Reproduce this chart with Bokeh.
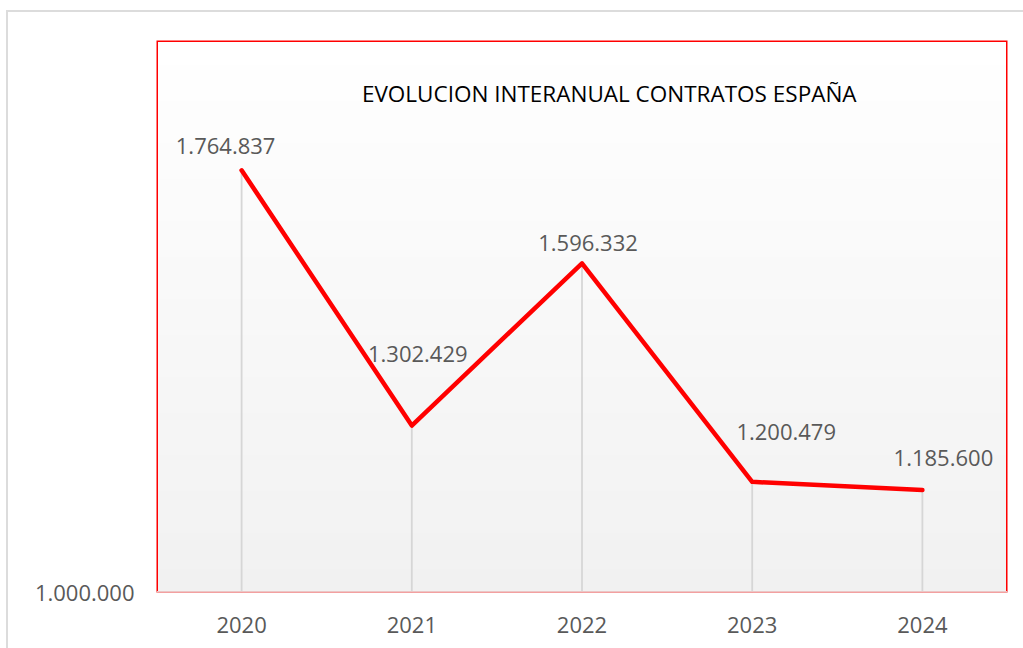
from bokeh.plotting import figure
from bokeh.models import Range1d, FixedTicker, Span, Label, ColumnDataSource, InlineStyleSheet, BoxAnnotation
from bokeh.core.properties import value
from bokeh.embed import file_html
from bokeh.resources import INLINE

# ---- data ----
years = ["2020", "2021", "2022", "2023", "2024"]
contratos = [1764837, 1302429, 1596332, 1200479, 1185600]
y_ticks = [1000000]
y_tick_labels = ["1.000.000"]
title_text = "EVOLUCION INTERANUAL CONTRATOS ESPAÑA"

# ---- styling (label nudges in screen pixels) ----
label_dx = [-16, 6, 6, 34, 21]
label_dy = [-24, -72, -20, -50, -32]

xs = list(range(1, len(years) + 1))
labels = [f"{v:,}".replace(",", ".") for v in contratos]
y_min, y_max = 1000000, 2000000

FONT = "Open Sans"
GREY_TXT = "#595959"

p = figure(width=1015, height=640, output_backend="svg", toolbar_location=None,
           x_range=Range1d(0.5, len(years) + 0.5), y_range=Range1d(y_min, y_max),
           min_border_left=156, min_border_top=40, min_border_right=8, min_border_bottom=48)
p.background_fill_color = "#ffffff"
p.border_fill_color = "#ffffff"
p.outline_line_color = None
p.xgrid.visible = False
p.ygrid.visible = False

# outer chart border (light grey, top and left)
p.stylesheets = [InlineStyleSheet(css="""
:host { position: relative; }
:host::after { content: ''; position: absolute; left: 6px; top: 10px; right: -20px; bottom: -20px;
  border-left: 2px solid #dcdcdc; border-top: 2px solid #dcdcdc; pointer-events: none; z-index: 50; }
""")]

# gradient background (decorative strips)
n = 92
bots, tops, cols = [], [], []
for i in range(n):
    b = y_min + (y_max - y_min) * i / n
    t = y_min + (y_max - y_min) * (i + 1) / n
    f = i / (n - 1)
    c = int(round(0xf1 + (0xff - 0xf1) * f))
    bots.append(b); tops.append(t); cols.append("#%02x%02x%02x" % (c, c, c))
p.quad(left=0.5, right=len(years) + 0.5, bottom=bots, top=tops,
       fill_color=cols, line_color=cols, line_width=1)

# drop lines
p.segment(x0=xs, y0=[y_min] * len(xs), x1=xs, y1=contratos,
          line_color="#d6d6d6", line_width=1.8)

# main line
p.line(xs, contratos, line_color="#ff0000", line_width=4.5,
       line_join="round", line_cap="round")

# data labels
src = ColumnDataSource(dict(x=xs, y=contratos, t=labels, dx=label_dx, dy=label_dy))
p.text(x="x", y="y", text="t", x_offset="dx", y_offset="dy", source=src,
       text_font=value(FONT), text_font_size="22px", text_color=GREY_TXT,
       text_align="center", text_baseline="middle")

# red plot-area border (drawn on top)
p.add_layout(BoxAnnotation(left=0.5, right=len(years) + 0.5, bottom=y_min, top=y_max,
                           fill_alpha=0, line_color="#ff0000", line_width=3, line_alpha=1))

# bottom edge of plot area (pinkish axis line)
p.add_layout(Span(location=y_min, dimension="width", line_color="#ebc6c6", line_width=3))

# title inside plot area
p.add_layout(Label(x=3.16, y=1904000, text=title_text, text_font=FONT,
                   text_font_size="22.5px", text_color="#000000",
                   text_align="center", text_baseline="middle"))

# axes
xa = p.xaxis[0]
xa.ticker = FixedTicker(ticks=xs)
xa.major_label_overrides = {x: y for x, y in zip(xs, years)}
xa.axis_line_color = None
xa.major_tick_line_color = None
xa.minor_tick_line_color = None
xa.major_label_standoff = 18
xa.major_label_text_font = FONT
xa.major_label_text_font_size = "22px"
xa.major_label_text_color = GREY_TXT

ya = p.yaxis[0]
ya.ticker = FixedTicker(ticks=y_ticks)
ya.major_label_overrides = {t: l for t, l in zip(y_ticks, y_tick_labels)}
ya.axis_line_color = None
ya.major_tick_line_color = None
ya.minor_tick_line_color = None
ya.major_label_standoff = 16
ya.major_label_text_font = FONT
ya.major_label_text_font_size = "22px"
ya.major_label_text_color = GREY_TXT

open("out.html", "w").write(file_html(p, INLINE))
